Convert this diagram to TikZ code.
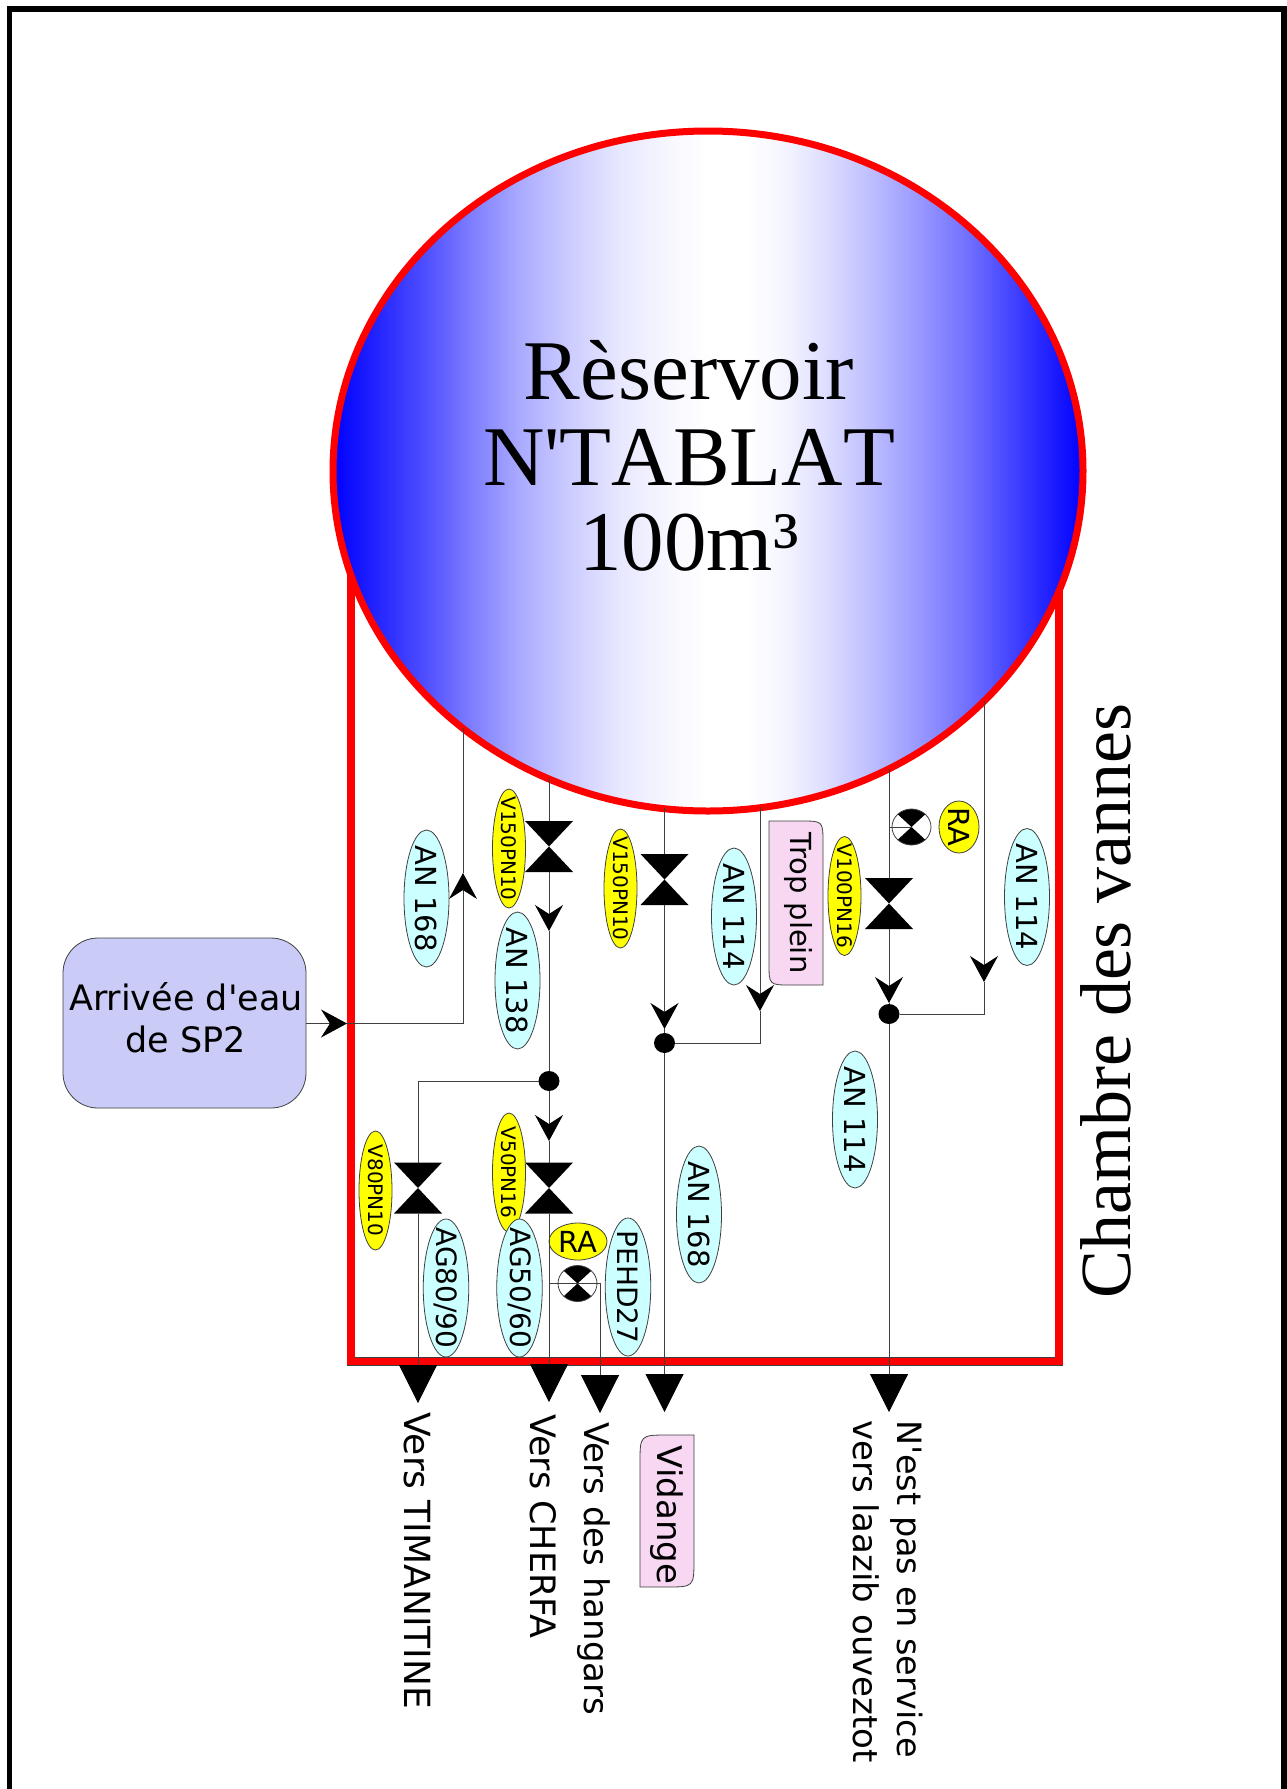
\documentclass[tikz,border=0pt]{standalone}
\usepackage{fontspec}
\setmainfont{DejaVu Sans}[Ligatures=TeXOff]
\newfontfamily\bigserif{Liberation Serif}[Kerning=Off]
\newfontfamily\sideserif{Liberation Serif}
\usetikzlibrary{shapes.geometric,arrows.meta}
\definecolor{lineg}{HTML}{404040}
\definecolor{redw}{HTML}{FF0000}
\definecolor{cyant}{HTML}{CCFFFF}
\definecolor{yel}{HTML}{FFFF00}
\definecolor{pinkt}{HTML}{F7D7F2}
\definecolor{boxb}{HTML}{CACCF7}
\newcommand{\ztxt}[1]{\makebox[0pt][c]{#1}}
\pgfdeclarehorizontalshading{tankshade}{100bp}{
  rgb(0bp)=(0,0,1);
  rgb(25bp)=(0,0,1);
  rgb(27.5bp)=(0.12,0.12,1);
  rgb(30.8bp)=(0.29,0.29,1);
  rgb(34.2bp)=(0.49,0.49,1);
  rgb(37.5bp)=(0.67,0.67,1);
  rgb(40.8bp)=(0.80,0.80,1);
  rgb(44.2bp)=(0.91,0.91,1);
  rgb(47.5bp)=(0.97,0.97,1);
  rgb(50bp)=(1,1,1);
  rgb(52.5bp)=(1,1,1);
  rgb(55bp)=(0.96,0.96,1);
  rgb(57.5bp)=(0.88,0.88,1);
  rgb(60.5bp)=(0.76,0.76,1);
  rgb(64bp)=(0.60,0.60,1);
  rgb(67.3bp)=(0.44,0.44,1);
  rgb(71bp)=(0.22,0.22,1);
  rgb(73.9bp)=(0.06,0.06,1);
  rgb(75bp)=(0,0,1);
  rgb(100bp)=(0,0,1)}
\tikzset{
  x=1pt,y=-1pt,
  frameline/.style={draw=black,line width=5.5pt},
  redwall/.style={draw=redw,line width=7.2pt},
  redout/.style={draw=lineg,line width=8.6pt},
  tank/.style={ellipse,inner sep=0pt,outer sep=0pt,draw=redw,line width=7pt,minimum width=750pt,minimum height=680pt,
    shading=tankshade},
  tag/.style={ellipse,inner sep=0pt,outer sep=0pt,draw=lineg,line width=0.8pt},
  antag/.style={tag,fill=cyant,rotate=-90,minimum width=137pt,minimum height=45pt,font=\fontsize{29}{34}\selectfont},
  agtag/.style={tag,fill=cyant,rotate=-90,minimum width=138pt,minimum height=45.5pt,font=\fontsize{28}{34}\selectfont},
  vtag/.style={tag,fill=yel,rotate=-90,minimum width=119pt,minimum height=33pt,font=\fontsize{20}{24}\selectfont},
  ratag/.style={tag,fill=yel,font=\fontsize{29}{34}\selectfont},
  valve/.style={rectangle,inner sep=0pt,outer sep=0pt,minimum width=48pt,minimum height=51pt,
    path picture={\fill[black] (path picture bounding box.north west) -- (path picture bounding box.north east)
      -- (path picture bounding box.south west) -- (path picture bounding box.south east) -- cycle;}},
  meter/.style={ellipse,inner sep=0pt,outer sep=0pt,draw=lineg,line width=0.8pt,minimum width=39pt,minimum height=36pt,
    path picture={\fill[black] (path picture bounding box.north west) -- (path picture bounding box.north east)
      -- (path picture bounding box.south west) -- (path picture bounding box.south east) -- cycle;}},
  joint/.style={ellipse,fill=black,inner sep=0pt,outer sep=0pt,minimum width=21pt,minimum height=20pt},
  pipe/.style={draw=lineg,line width=1pt},
  flow/.style={pipe,-{Stealth[length=26pt,width=28pt,inset=9pt,color=black]}},
  outflow/.style={pipe,-{Triangle[length=38pt,width=38pt,color=black]}},
  inbox/.style={rectangle,rounded corners=35pt,draw=lineg,line width=0.8pt,fill=boxb,minimum width=243pt,minimum height=170pt,inner sep=0pt,outer sep=0pt},
  boxtext/.style={inner sep=0pt,align=center,font=\fontsize{35}{42}\selectfont},
  pinkshape/.style={draw=lineg,line width=0.8pt,fill=pinkt},
  sidetext/.style={rotate=-90,inner sep=0pt,outer sep=0pt,anchor=base west},
}
\begin{document}
\begin{tikzpicture}
\useasboundingbox (0,0) rectangle (1287,1789);
\fill[white] (0,0) rectangle (1287,1789);
% outer frame (runs off the bottom of the page)
\begin{scope}
\clip (0,0) rectangle (1287,1789);
\draw[frameline] (9.5,1810) -- (9.5,9) -- (1284,9) -- (1284,1810);
\end{scope}
% valve chamber
\draw[redout] (351,500) rectangle (1059,1361.5);
\draw[redwall] (351,500) rectangle (1059,1361.5);
% reservoir
\node[tank] (res) at (708,471) {};
\node[inner sep=0pt,align=center,font=\bigserif\fontsize{85}{85.5}\selectfont] (restext) at (689,456) {Rèservoir\\N'TABLAT\\100m³};
\node[rotate=90,inner sep=0pt,font=\sideserif\fontsize{72}{80}\selectfont] (chambre) at (1106,1001) {Chambre des vannes};
% pipe ends on the reservoir
\coordinate (t0) at (463,728);
\coordinate (t1) at (549,779);
\coordinate (t2) at (664.5,808);
\coordinate (t3) at (760,807);
\coordinate (t4) at (889,769);
\coordinate (t5) at (984,701);
% source
\node[inbox] (src) at (184.5,1023) {};
\node[boxtext] (srctext) at (186,1018) {Arrivée d'eau\\de SP2};
% valves
\node[valve] (v1) at (549,846.5) {};
\node[valve] (v2) at (664.5,879.5) {};
\node[valve] (v3) at (889,903.5) {};
\node[valve] (v4) at (418,1188) {};
\node[valve] (v5) at (549,1188) {};
% junctions
\node[joint] (j1) at (549,1081) {};
\node[joint] (j2) at (664.5,1043) {};
\node[joint] (j3) at (889,1014) {};
% meters
\node[meter] (m1) at (911.5,827) {};
\node[meter] (m2) at (577.5,1283.5) {};
% tags
\node[antag] (an1) at (426.5,898.5) {\ztxt{AN 168}};
\node[antag] (an2) at (517.5,980.5) {\ztxt{AN 138}};
\node[antag] (an3) at (734,916.5) {\ztxt{AN 114}};
\node[antag] (an4) at (1027,897) {\ztxt{AN 114}};
\node[antag] (an5) at (855,1119.5) {\ztxt{AN 114}};
\node[antag] (an6) at (699,1214.5) {\ztxt{AN 168}};
\node[vtag] (y1) at (509,848.5) {\ztxt{V150PN10}};
\node[vtag] (y2) at (620.5,888.5) {\ztxt{V150PN10}};
\node[vtag] (y3) at (844.5,896) {\ztxt{V100PN16}};
\node[vtag] (y4) at (375.5,1190.5) {\ztxt{V80PN10}};
\node[vtag] (y5) at (509,1172.5) {\ztxt{V50PN16}};
\node[agtag] (ag1) at (446,1288) {\ztxt{AG80/90}};
\node[agtag] (ag2) at (519.5,1288) {\ztxt{AG50/60}};
\node[agtag] (ag3) at (628,1287) {\ztxt{PEHD27}};
\node[ratag,rotate=-90,minimum width=52pt,minimum height=40pt] (ra1) at (959,827) {\ztxt{RA}};
\node[ratag,minimum width=58pt,minimum height=37pt] (ra2) at (578,1241.5) {\ztxt{RA}};
% shaped labels
\draw[pinkshape] (769,821) -- (801,821) .. controls (823,821) .. (823,843) -- (823,985) -- (791,985) .. controls (769,985) .. (769,963) -- cycle;
\node[rotate=-90,inner sep=0pt,font=\fontsize{29}{34}\selectfont] (trop) at (798,903) {Trop plein};
\draw[pinkshape] (668,1435) -- (694,1435) -- (694,1559) .. controls (694,1587) .. (666,1587) -- (640,1587) -- (640,1463) .. controls (640,1435) .. cycle;
\node[rotate=-90,inner sep=0pt,font=\fontsize{34}{40}\selectfont] (vid) at (667,1515) {Vidange};
% outlet texts
\node[sidetext,font=\fontsize{36}{42}\selectfont] (o1) at (404,1412) {Vers TIMANITINE};
\node[sidetext,font=\fontsize{35}{42}\selectfont] (o2) at (530,1414) {Vers CHERFA};
\node[sidetext,font=\fontsize{34}{42}\selectfont] (o3) at (584,1422) {Vers des hangars};
\node[sidetext,font=\fontsize{33.5}{42}\selectfont] (o4) at (897,1420) {N'est pas en service};
\node[sidetext,font=\fontsize{34}{42}\selectfont] (o5) at (853,1420) {vers laazib ouveztot};
% arrow tip positions
\coordinate (ain) at (347,1023.5);
\coordinate (aup) at (463,873);
\coordinate (bend) at (463,1023.5);
\coordinate (a1) at (549,931);
\coordinate (a2) at (664.5,1029);
\coordinate (a3) at (760,1011);
\coordinate (a4) at (889,1003);
\coordinate (a5) at (984,982);
\coordinate (a6) at (549,1141);
\coordinate (tap1) at (889,827);
\coordinate (tap2) at (549,1283);
\coordinate (rise) at (600,1283);
\coordinate (e1) at (418,1403);
\coordinate (e2) at (549,1402);
\coordinate (e3) at (600,1413);
\coordinate (e4) at (664.5,1412);
\coordinate (e5) at (889,1412);
% connectors
\draw[flow] (src.east |- ain) -- (ain);
\draw[pipe] (ain) -- (bend);
\draw[flow] (bend) -- (aup);
\draw[pipe] (aup) -- (t0);
\draw[pipe] (t1) -- (v1.north);
\draw[flow] (v1.south) -- (a1);
\draw[pipe] (a1) -- (j1);
\draw[flow] (j1) -- (a6);
\draw[pipe] (a6) -- (v5.north);
\draw[outflow] (v5.south) -- (e2);
\draw[pipe] (j1) -| (v4.north);
\draw[outflow] (v4.south) -- (e1);
\draw[pipe] (t2) -- (v2.north);
\draw[flow] (v2.south) -- (a2);
\draw[pipe] (a2) -- (j2);
\draw[outflow] (j2) -- (e4);
\draw[flow] (t3) -- (a3);
\draw[pipe] (a3) |- (j2);
\draw[pipe] (t4) -- (v3.north);
\draw[flow] (v3.south) -- (a4);
\draw[pipe] (a4) -- (j3);
\draw[outflow] (j3) -- (e5);
\draw[flow] (t5) -- (a5);
\draw[pipe] (a5) |- (j3);
\draw[pipe] (tap1) -- (m1.center);
\draw[pipe] (tap2) -- (rise);
\draw[outflow] (rise) -- (e3);
\end{tikzpicture}
\end{document}
